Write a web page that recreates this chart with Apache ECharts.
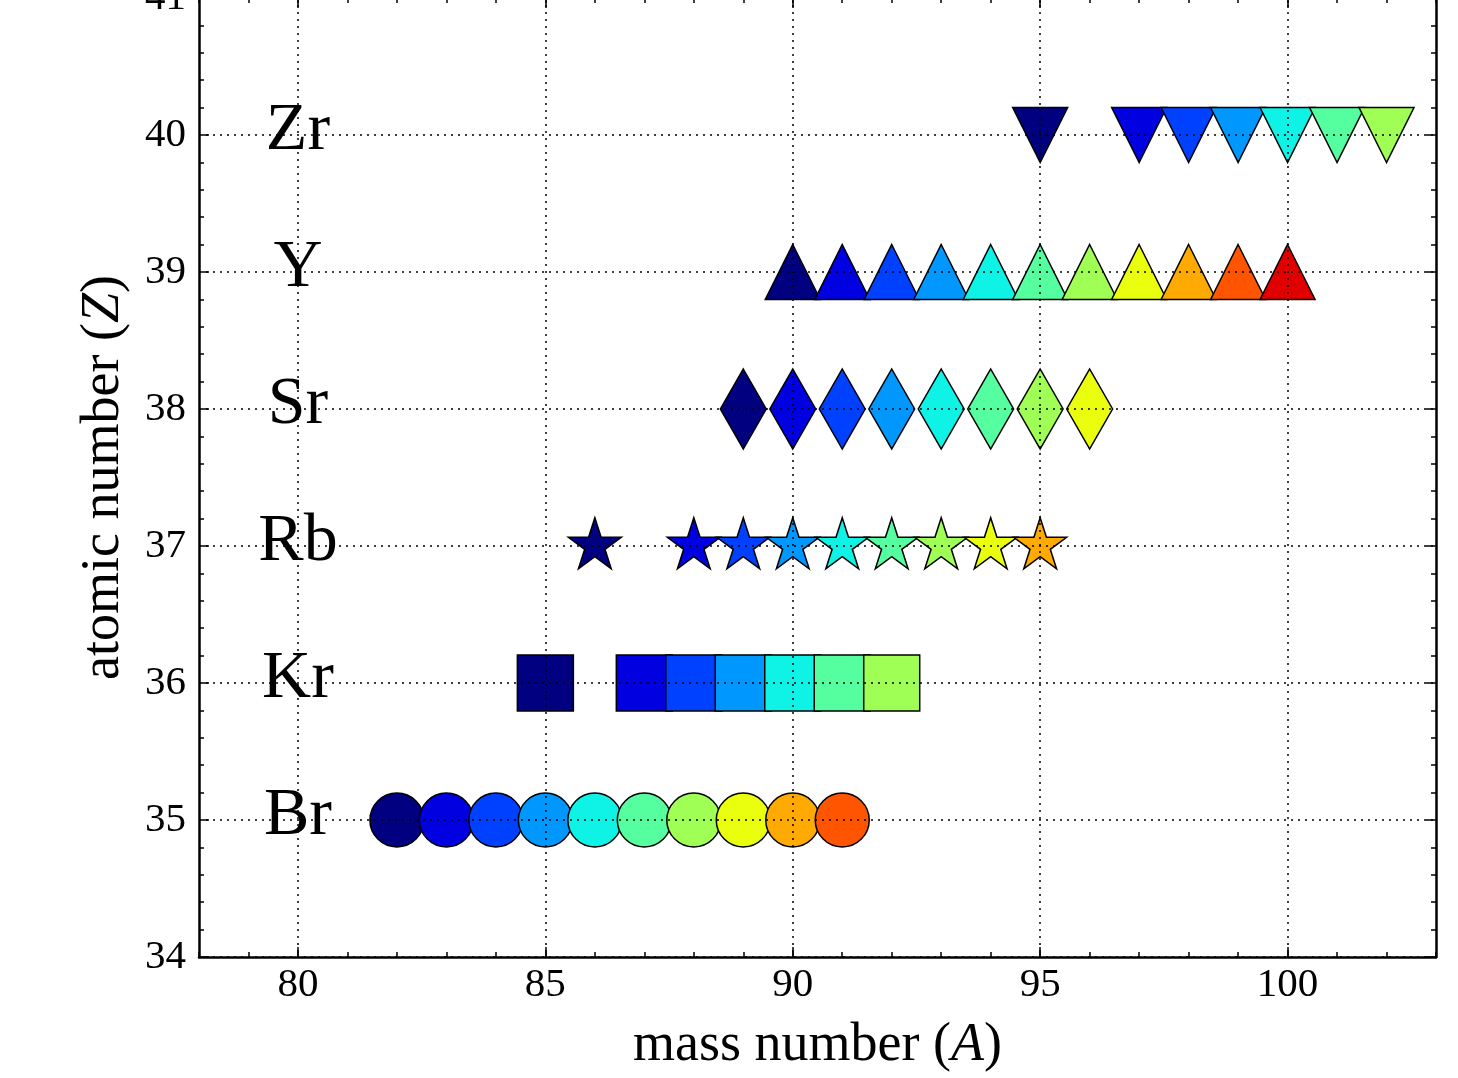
<!DOCTYPE html>
<html lang="en">
<head>
<meta charset="UTF-8">
<title>Isotopes chart</title>
<script src="https://cdn.jsdelivr.net/npm/echarts@6.0.0/dist/echarts.min.js"></script>
<style>
  html, body { margin: 0; padding: 0; background: #fff; }
  #chart { width: 1458px; height: 1078px; }
</style>
</head>
<body>
<div id="chart"></div>
<script>
// element names and their atomic numbers
const elements = ['Br', 'Kr', 'Rb', 'Sr', 'Y', 'Zr'];
const atomicNumbers = [35, 36, 37, 38, 39, 40];

// mass numbers plotted for each element
const massBr = [82, 83, 84, 85, 86, 87, 88, 89, 90, 91];
const massKr = [85, 87, 88, 89, 90, 91, 92];
const massRb = [86, 88, 89, 90, 91, 92, 93, 94, 95];
const massSr = [89, 90, 91, 92, 93, 94, 95, 96];
const massY = [90, 91, 92, 93, 94, 95, 96, 97, 98, 99, 100];
const massZr = [95, 97, 98, 99, 100, 101, 102];

// jet-like colours, picked by isotope order
const colors = ['#000080', '#0000e0', '#0040ff', '#0098ff', '#0ff2e6', '#55ffa0',
                '#a0ff55', '#eaff0e', '#ffaa00', '#ff5500', '#e00000'];

const xTicks = [80, 85, 90, 95, 100];

// 5 point star outline for the Rb markers
function starPath() {
  let d = '';
  for (let i = 0; i < 10; i++) {
    const r = i % 2 === 0 ? 1 : 0.382;
    const a = -Math.PI / 2 + i * Math.PI / 5;
    d += (i === 0 ? 'M' : 'L') + (r * Math.cos(a) * 100).toFixed(2) + ' ' + (r * Math.sin(a) * 100).toFixed(2) + ' ';
  }
  return 'path://' + d + 'Z';
}

const font = 'Liberation Serif';
const chart = echarts.init(document.getElementById('chart'));

function isoSeries(masses, z, symbol, size, extra) {
  return Object.assign({
    type: 'scatter',
    xAxisIndex: 0,
    yAxisIndex: 0,
    symbol: symbol,
    symbolSize: size,
    z: 2,
    data: masses.map((m, i) => ({
      value: [m, z],
      itemStyle: { color: colors[i], borderColor: '#000', borderWidth: 1.5, opacity: 1 }
    }))
  }, extra || {});
}

const series = [
  isoSeries(massBr, atomicNumbers[0], 'circle', 54),
  isoSeries(massKr, atomicNumbers[1], 'rect', 56),
  isoSeries(massRb, atomicNumbers[2], starPath(), [53, 51], { symbolOffset: [0, -2.7] }),
  isoSeries(massSr, atomicNumbers[3], 'diamond', [46, 80]),
  isoSeries(massY, atomicNumbers[4], 'triangle', [55, 55]),
  isoSeries(massZr, atomicNumbers[5], 'triangle', [55, 55], { symbolRotate: 180 }),
  {
    type: 'scatter',
    symbolSize: 1,
    itemStyle: { color: 'rgba(0,0,0,0)' },
    z: 1,
    data: elements.map((e, i) => ({ value: [80, atomicNumbers[i]], name: e })),
    label: {
      show: true,
      position: 'inside',
      formatter: p => p.name,
      fontFamily: font,
      fontSize: 68,
      color: '#000',
      opacity: 1,
      offset: [0, -4]
    }
  }
];

const tickLabel = { fontFamily: font, fontSize: 41, color: '#000' };
const axisLine = { show: true, onZero: false, lineStyle: { color: '#000', width: 2.5 } };
const dotted = { show: true, lineStyle: { color: '#000', width: 1.5, type: [2, 5] } };
const nameRich = {
  n: { fontFamily: font, fontSize: 54, color: '#000' },
  i: { fontFamily: font, fontSize: 54, fontStyle: 'italic', color: '#000' }
};

const option = {
  animation: false,
  grid: { left: 199, right: 22, top: -2, bottom: 121, containLabel: false, outerBoundsMode: 'none' },
  xAxis: [
    {
      type: 'value', position: 'bottom', min: 78, max: 103, interval: 1, z: 3,
      axisLine: axisLine,
      axisTick: { show: true, inside: true, length: 10, customValues: xTicks, lineStyle: { color: '#000', width: 1.5 } },
      axisLabel: Object.assign({ margin: 8, customValues: xTicks }, tickLabel),
      splitLine: dotted,
      name: '{n|mass number (}{i|A}{n|)}',
      nameLocation: 'middle',
      nameGap: 62,
      nameTextStyle: { rich: nameRich }
    },
    {
      type: 'value', position: 'bottom', min: 78, max: 103, interval: 1,
      axisLine: { show: false },
      axisTick: { show: true, inside: true, length: 5, lineStyle: { color: '#000', width: 1.5 } },
      axisLabel: { show: false },
      splitLine: { show: false }
    },
    {
      type: 'value', position: 'top', min: 78, max: 103, interval: 1, z: 3,
      axisLine: axisLine,
      axisTick: { show: true, inside: true, length: 10, customValues: xTicks, lineStyle: { color: '#000', width: 1.5 } },
      axisLabel: { show: false },
      splitLine: { show: false }
    },
    {
      type: 'value', position: 'top', min: 78, max: 103, interval: 1,
      axisLine: { show: false },
      axisTick: { show: true, inside: true, length: 5, lineStyle: { color: '#000', width: 1.5 } },
      axisLabel: { show: false },
      splitLine: { show: false }
    }
  ],
  yAxis: [
    {
      type: 'value', position: 'left', min: 34, max: 41, interval: 1, z: 3,
      axisLine: axisLine,
      axisTick: { show: true, inside: true, length: 10, lineStyle: { color: '#000', width: 1.5 } },
      minorTick: { show: true, splitNumber: 5, length: 5, lineStyle: { color: '#000', width: 1.5 } },
      axisLabel: Object.assign({ margin: 13 }, tickLabel),
      splitLine: dotted,
      name: '{n|atomic number (}{i|Z}{n|)}',
      nameLocation: 'middle',
      nameGap: 68,
      nameTextStyle: { rich: nameRich }
    },
    {
      type: 'value', position: 'right', min: 34, max: 41, interval: 1, z: 3,
      axisLine: axisLine,
      axisTick: { show: true, inside: true, length: 10, lineStyle: { color: '#000', width: 1.5 } },
      minorTick: { show: true, splitNumber: 5, length: 5, lineStyle: { color: '#000', width: 1.5 } },
      axisLabel: { show: false },
      splitLine: { show: false }
    }
  ],
  series: series
};

chart.setOption(option);
</script>
</body>
</html>
